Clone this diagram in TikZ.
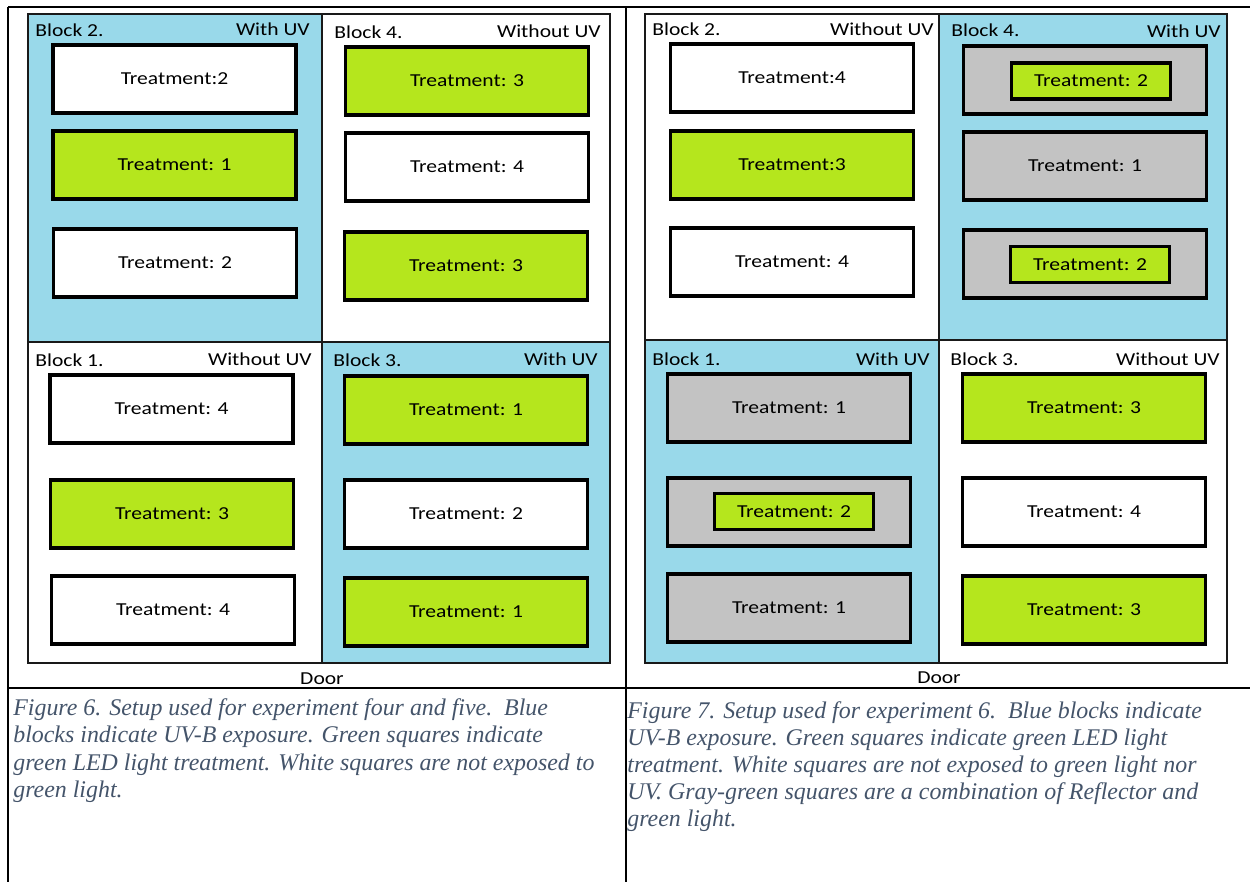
\documentclass[tikz,border=0pt]{standalone}
\usepackage{fontspec}
\setmainfont{Carlito}[FakeStretch=1.18]
\newfontfamily\capfont{Liberation Serif}
\definecolor{uvblue}{RGB}{153,217,234}
\definecolor{ledgreen}{RGB}{181,230,29}
\definecolor{reflgray}{RGB}{195,195,195}
\definecolor{captext}{RGB}{68,84,106}
\tikzset{
  tabline/.style={line width=1.1pt},
  blockframe/.style={draw=black!90, line width=1.6pt},
  tbox/.style={draw=black, line width=1.8pt, minimum width=4.86cm, minimum height=1.36cm,
    inner sep=0pt, font=\fontsize{10.4}{12}\selectfont},
  ledbox/.style={tbox, fill=ledgreen, minimum width=3.18cm, minimum height=0.72cm},
  blklabel/.style={inner sep=0pt, font=\fontsize{10.4}{12}\selectfont},
  caption/.style={inner sep=0pt, anchor=base west, text=captext,
    font=\capfont\itshape\fontsize{13.6}{16}\selectfont}
}
\begin{document}
\begin{tikzpicture}[x=0.02cm,y=-0.02cm]
  \useasboundingbox (0,0) rectangle (1250,882);
  % table rules
  \draw[tabline] (8,7) -- (1250,7);
  \draw[tabline] (8,688) -- (1250,688);
  \draw[tabline] (8,7) -- (8,882);
  \draw[tabline] (626,7) -- (626,882);
  % blocks
  \foreach \x/\y/\w/\h/\c in {28/14/294/328/uvblue, 322/14/288/328/white,
      28/342/294/321/white, 322/342/288/321/uvblue,
      645/14/294/326/white, 939/14/288/326/uvblue,
      645/340/294/323/uvblue, 939/340/288/323/white} {
    \draw[blockframe, fill=\c] (\x,\y) rectangle ++(\w,\h);
  }
  % block labels
  \foreach \n/\x/\y/\t in {l2/35/37/Block 2., l4/334/39/Block 4., l1/35/366/Block 1., l3/333/366/Block 3.,
      r2/652/36/Block 2., r4/951/37/Block 4., r1/652/365/Block 1., r3/950/365/Block 3.} {
    \node[blklabel, anchor=base west] (name-\n) at (\x,\y) {\t};
  }
  \foreach \n/\x/\y/\t in {l2/310/36/With UV, l4/601/38/Without UV, l1/312/365/Without UV, l3/598/365/With UV,
      r2/934/36/Without UV, r4/1221/38/With UV, r1/930/365/With UV, r3/1220/365/Without UV} {
    \node[blklabel, anchor=base east] (uv-\n) at (\x,\y) {\t};
  }
  % treatments, figure 6
  \foreach \n/\x/\y/\c/\t in {l2a/174.5/79/white/Treatment:2, l2b/174.5/165/ledgreen/Treatment: 1,
      l2c/175/263/white/Treatment: 2, l4a/467/81/ledgreen/Treatment: 3, l4b/467/167/white/Treatment: 4,
      l4c/466/266/ledgreen/Treatment: 3, l1a/171.5/409/white/Treatment: 4, l1b/172/514/ledgreen/Treatment: 3,
      l1c/173/610/white/Treatment: 4, l3a/466/410/ledgreen/Treatment: 1, l3b/466/514/white/Treatment: 2,
      l3c/466/612/ledgreen/Treatment: 1} {
    \node[tbox, fill=\c] (t-\n) at (\x,\y) {\t};
  }
  % treatments, figure 7
  \foreach \n/\x/\y/\c/\t in {r2a/792/78/white/Treatment:4, r2b/792/165/ledgreen/Treatment:3,
      r2c/792/262/white/Treatment: 4, r4a/1085/80/reflgray/, r4b/1085/166/reflgray/Treatment: 1,
      r4c/1085/264/reflgray/, r1a/789/408/reflgray/Treatment: 1, r1b/789/512/reflgray/,
      r1c/789/608/reflgray/Treatment: 1, r3a/1084/408/ledgreen/Treatment: 3,
      r3b/1084/512/white/Treatment: 4, r3c/1084/610/ledgreen/Treatment: 3} {
    \node[tbox, fill=\c] (t-\n) at (\x,\y) {\t};
  }
  % green light inside the reflector
  \node[ledbox] (g-r4a) at (1091,81) {Treatment: 2};
  \node[ledbox] (g-r4c) at (1090,264.5) {Treatment: 2};
  \node[ledbox] (g-r1b) at (794,511.5) {Treatment: 2};
  % doors
  \node[blklabel, anchor=base] (door-l) at (322,684) {Door};
  \node[blklabel, anchor=base] (door-r) at (939,683) {Door};
  % captions
  \foreach \t [count=\i] in {Figure 6. Setup used for experiment four and five.\ \ Blue,
      blocks indicate UV-B exposure. Green squares indicate,
      green LED light treatment. White squares are not exposed to,
      green light.} {
    \node[caption] (cap-l\i) at (13,715+27.5*\i-27.5) {\t};
  }
  \foreach \t [count=\i] in {Figure 7. Setup used for experiment 6.\ \ Blue blocks indicate,
      UV-B exposure. Green squares indicate green LED light,
      treatment. White squares are not exposed to green light nor,
      UV. Gray-green squares are a combination of Reflector and,
      green light.} {
    \node[caption] (cap-r\i) at (627,718+27*\i-27) {\t};
  }
\end{tikzpicture}
\end{document}
